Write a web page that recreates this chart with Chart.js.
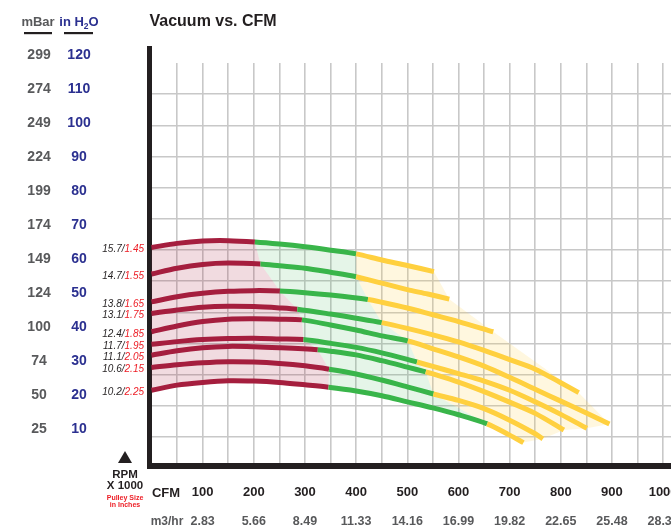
<!DOCTYPE html>
<html><head><meta charset="utf-8">
<script src="https://cdn.jsdelivr.net/npm/chart.js@4.4.1/dist/chart.umd.min.js"></script>
<style>html,body{margin:0;padding:0;background:#fff}#wrap{width:671px;height:531px}</style>
</head><body><div id="wrap"><canvas id="c" width="671" height="531"></canvas></div>
<script>
const FONT = "'Liberation Sans Narrow','Liberation Sans',Arial,sans-serif";

// ---- data ----
const cfmTicks = [100, 200, 300, 400, 500, 600, 700, 800, 900, 1000];
const m3hrTicks = ['2.83', '5.66', '8.49', '11.33', '14.16', '16.99', '19.82', '22.65', '25.48', '28.32'];
const gridCfm = [50,100,150,200,250,300,350,400,450,500,550,600,650,700,750,800,850,900,950,1000];
const gridRows = [1,2,3,4,5,6,7,8,9,10,11,12];
const inH2OTicks = [10, 20, 30, 40, 50, 60, 70, 80, 90, 100, 110, 120];
const mbarTicks = ['25', '50', '74', '100', '124', '149', '174', '199', '224', '249', '274', '299'];
const rpmLabels = ['15.7', '14.7', '13.8', '13.1', '12.4', '11.7', '11.1', '10.6', '10.2'];
const pulleyLabels = ['1.45', '1.55', '1.65', '1.75', '1.85', '1.95', '2.05', '2.15', '2.25'];
// CFM where each curve turns from red to green, and from green to yellow
const redEnd   = [202, 213, 251, 285, 294, 297, 325, 347, 346];
const greenEnd = [400, 400, 423, 450, 501, 519, 536, 551, 656];
// curves: [CFM, inches H2O]
const curve157 = [[0,63.4],[50,64.6],[100,65.3],[150,65.4],[202,65.0],[250,64.4],[300,63.6],[350,62.6],[400,61.5],[450,59.7],[500,58.1],[552,56.3]];
const curve147 = [[0,55.6],[50,57.3],[100,58.4],[150,58.8],[213,58.5],[250,58.0],[300,57.3],[350,56.1],[400,54.8],[450,52.9],[500,51.0],[540,49.7],[582,48.2]];
const curve138 = [[0,47.4],[50,48.9],[100,49.9],[150,50.5],[200,50.7],[251,50.6],[300,50.1],[350,49.4],[423,48.1],[450,47.3],[500,45.6],[550,43.6],[600,41.6],[668,38.6]];
const curve131 = [[0,44.0],[50,45.0],[100,45.8],[150,46.1],[200,46.0],[250,45.6],[285,45.2],[350,43.8],[400,42.6],[450,41.3],[500,39.6],[550,37.7],[600,35.6],[650,33.1],[700,30.4],[750,27.6],[800,23.6],[835,20.7]];
const curve124 = [[0,38.6],[50,40.3],[100,41.6],[150,42.3],[200,42.4],[250,42.3],[294,42.1],[350,40.6],[400,39.1],[450,37.4],[501,35.9],[550,33.6],[600,31.2],[650,28.5],[700,25.2],[750,21.7],[800,18.2],[850,14.7],[895,11.5]];
const curve117 = [[0,34.9],[50,35.7],[100,36.3],[150,36.6],[200,36.7],[250,36.5],[297,36.3],[350,35.2],[400,34.0],[450,32.4],[500,30.5],[519,29.7],[550,28.4],[600,26.3],[650,24.1],[700,21.4],[750,18.0],[800,14.3],[851,10.2]];
const curve111 = [[0,31.7],[50,33.0],[100,33.9],[150,34.3],[200,34.2],[250,33.9],[325,33.3],[350,32.9],[400,31.8],[450,30.1],[500,28.2],[536,26.8],[550,26.2],[600,23.8],[650,21.0],[700,17.9],[750,14.6],[806,9.7]];
const curve106 = [[0,28.1],[50,28.9],[100,29.5],[150,29.8],[200,29.7],[250,29.3],[300,28.6],[347,27.6],[400,26.2],[450,24.4],[500,22.4],[551,20.3],[600,18.4],[650,16.0],[700,12.6],[750,8.6],[765,7.1]];
const curve102 = [[0,21.4],[50,22.9],[100,23.7],[150,24.2],[200,24.1],[250,23.7],[300,23.0],[346,22.3],[400,21.2],[450,19.8],[500,18.0],[550,16.2],[600,14.2],[656,11.5],[700,8.2],[727,6.0]];
const curves = [curve157, curve147, curve138, curve131, curve124, curve117, curve111, curve106, curve102];

// ---- styles ----
const RED = '#a51e3e', GREEN = '#39b54a', YELLOW = '#ffd03f';
const GRID = '#c8c8c8', INK = '#231f20', GRAYTXT = '#58595b', NAVY = '#2b3090', BRIGHTRED = '#ed1c24';

// ---- shaded regions built from the curves ----
const part = (c, a, b) => c.filter(p => p[0] >= a && p[0] <= b);
const at = (c, x) => c.find(p => p[0] === x);
const lastPt = c => c[c.length - 1];
const n = curves.length;
const topC = curves[0], botC = curves[n - 1], midC = curves.slice(1, n - 1);
const redPts = midC.map((c, k) => at(c, redEnd[k + 1]));
const greenPts = midC.map((c, k) => at(c, greenEnd[k + 1]));
const pinkPoly = [...part(topC, 0, redEnd[0]), ...redPts, ...part(botC, 0, redEnd[n - 1]).reverse()];
const greenPoly = [...part(topC, redEnd[0], greenEnd[0]), ...greenPts, ...part(botC, redEnd[n - 1], greenEnd[n - 1]).reverse(), ...redPts.slice().reverse()];
const yellowPoly = [...part(topC, greenEnd[0], Infinity), ...midC.map(lastPt), ...part(botC, greenEnd[n - 1], Infinity).reverse(), ...greenPts.slice().reverse()];

const toXY = pts => pts.map(p => ({x: p[0], y: p[1]}));
const polyDs = (pts, color) => ({
  type: 'line', data: toXY(pts), borderWidth: 0, borderColor: 'rgba(0,0,0,0)',
  pointRadius: 0, tension: 0, fill: 'shape', backgroundColor: color, order: 5,
  xAxisID: 'x', yAxisID: 'y'
});

const curveDs = curves.map((pts, i) => ({
  type: 'line', data: toXY(pts), borderWidth: 5, borderColor: RED,
  borderCapStyle: 'butt', borderJoinStyle: 'round', pointRadius: 0, tension: 0.3, fill: false, order: 0,
  xAxisID: 'x', yAxisID: 'y',
  segment: {
    borderColor: ctx => {
      const x0 = ctx.p0.parsed.x;
      return x0 < redEnd[i] ? RED : (x0 < greenEnd[i] ? GREEN : YELLOW);
    }
  }
}));

const decor = {
  id: 'decor',
  afterDraw(chart) {
    const {ctx, chartArea: ca, scales} = chart;
    const ys = scales.y;
    ctx.save();
    // axis line extension above grid
    ctx.fillStyle = INK;
    ctx.fillRect(ca.left - 2.5, 46, 5, ca.top - 46 + 1);

    // headers
    ctx.textBaseline = 'alphabetic';
    ctx.textAlign = 'center';
    ctx.font = `bold 13px ${FONT}`;
    ctx.fillStyle = GRAYTXT;
    ctx.fillText('mBar', 38, 26);
    ctx.fillStyle = INK;
    ctx.fillRect(24, 32, 28, 2.2);
    // in H2O with subscript
    ctx.textAlign = 'left';
    const big = `bold 13px ${FONT}`, small = `bold 8.5px ${FONT}`;
    ctx.font = big; const w1 = ctx.measureText('in H').width; const w3 = ctx.measureText('O').width;
    ctx.font = small; const w2 = ctx.measureText('2').width;
    const sx = 79 - (w1 + w2 + w3) / 2;
    ctx.fillStyle = NAVY;
    ctx.font = big; ctx.fillText('in H', sx, 26);
    ctx.font = small; ctx.fillText('2', sx + w1, 29);
    ctx.font = big; ctx.fillText('O', sx + w1 + w2, 26);
    ctx.fillStyle = INK;
    ctx.fillRect(64, 32, 29, 2.2);

    // curve labels
    ctx.textBaseline = 'middle';
    ctx.textAlign = 'right';
    ctx.font = `italic 10px ${FONT}`;
    curves.forEach((c, i) => {
      const yy = ys.getPixelForValue(c[0][1]) + 2;
      const xr = 144;
      ctx.fillStyle = BRIGHTRED;
      ctx.fillText(pulleyLabels[i], xr, yy);
      const wr = ctx.measureText(pulleyLabels[i]).width;
      ctx.fillStyle = INK;
      ctx.fillText(rpmLabels[i] + '/', xr - wr, yy);
    });

    // bottom row headers
    ctx.textAlign = 'center';
    ctx.font = `bold 13px ${FONT}`;
    ctx.fillStyle = INK;
    ctx.fillText('CFM', 166, 493);
    ctx.fillStyle = GRAYTXT;
    ctx.font = `bold 12px ${FONT}`;
    ctx.fillText('m3/hr', 167, 522);

    // RPM block
    ctx.fillStyle = INK;
    ctx.beginPath();
    ctx.moveTo(125, 451); ctx.lineTo(132, 463); ctx.lineTo(118, 463); ctx.closePath(); ctx.fill();
    ctx.font = `bold 11.5px ${FONT}`;
    ctx.fillText('RPM', 125, 474.5);
    ctx.fillText('X 1000', 125, 485.5);
    ctx.fillStyle = BRIGHTRED;
    ctx.font = `bold 7px ${FONT}`;
    ctx.fillText('Pulley Size', 125, 498);
    ctx.fillText('in Inches', 125, 505.5);
    ctx.restore();
  }
};

Chart.defaults.font.family = FONT;

new Chart(document.getElementById('c'), {
  type: 'line',
  data: {
    datasets: [
      ...curveDs,
      polyDs(pinkPoly, 'rgba(165,30,62,0.16)'),
      polyDs(greenPoly, 'rgba(57,181,74,0.13)'),
      polyDs(yellowPoly, 'rgba(255,205,64,0.17)')
    ]
  },
  options: {
    responsive: false,
    animation: false,
    events: [],
    layout: {padding: 0},
    plugins: {
      legend: {display: false},
      tooltip: {enabled: false},
      title: {
        display: true, text: 'Vacuum vs. CFM', align: 'start', fullSize: false,
        color: INK, font: {size: 16, weight: 'bold', lineHeight: 1.2},
        padding: {top: 12.4, bottom: 31.4}
      }
    },
    scales: {
      x: {
        type: 'linear', position: 'bottom', min: -3.9, max: 1015.4, weight: 0,
        afterBuildTicks: s => { s.ticks = gridCfm.map(v => ({value: v})); },
        afterFit: s => { s.height = 40; s.paddingLeft = 0; s.paddingRight = 0; },
        grid: {color: GRID, lineWidth: 1.6, drawTicks: false},
        border: {display: true, color: INK, width: 6},
        ticks: {
          autoSkip: false, maxRotation: 0, minRotation: 0, padding: 18.2, color: INK,
          font: {size: 13, weight: 'bold'},
          callback: v => cfmTicks.includes(v) ? String(v) : ''
        }
      },
      x2: {
        type: 'linear', position: 'bottom', min: -3.9, max: 1015.4, weight: 1,
        afterBuildTicks: s => { s.ticks = cfmTicks.map(v => ({value: v})); },
        afterFit: s => { s.height = 25; s.paddingLeft = 0; s.paddingRight = 0; },
        grid: {display: false, drawTicks: false},
        border: {display: false},
        ticks: {
          autoSkip: false, maxRotation: 0, minRotation: 0, padding: 8.5, color: GRAYTXT,
          font: {size: 12.5, weight: 'bold'},
          callback: (v, i) => m3hrTicks[i]
        }
      },
      y: {
        type: 'linear', position: 'left', min: -0.88, max: 117.65, weight: 0,
        afterBuildTicks: s => { s.ticks = inH2OTicks.map(v => ({value: v})); },
        afterFit: s => { s.width = 89.5; s.paddingTop = 0; s.paddingBottom = 0; },
        grid: {display: false, drawTicks: false},
        border: {display: true, color: INK, width: 5},
        ticks: {
          autoSkip: false, crossAlign: 'center', padding: 58.8, color: NAVY,
          font: {size: 14, weight: 'bold'},
          callback: v => String(v)
        }
      },
      ym: {
        type: 'linear', position: 'left', min: -0.88, max: 117.65, weight: 1,
        afterBuildTicks: s => { s.ticks = inH2OTicks.map(v => ({value: v})); },
        afterFit: s => { s.width = 60; s.paddingTop = 0; s.paddingBottom = 0; },
        grid: {display: false, drawTicks: false},
        border: {display: false},
        ticks: {
          autoSkip: false, crossAlign: 'center', padding: 9.3, color: GRAYTXT,
          font: {size: 14, weight: 'bold'},
          callback: (v, i) => mbarTicks[i]
        }
      },
      yg: {
        type: 'linear', position: 'right', min: 0.07, max: 13.0,
        afterBuildTicks: s => { s.ticks = gridRows.map(v => ({value: v})); },
        afterFit: s => { s.width = 0; s.paddingTop = 0; s.paddingBottom = 0; },
        grid: {color: GRID, lineWidth: 1.6, drawTicks: false},
        border: {display: false},
        ticks: {display: false}
      }
    }
  },
  plugins: [decor]
});
</script>
</body></html>
